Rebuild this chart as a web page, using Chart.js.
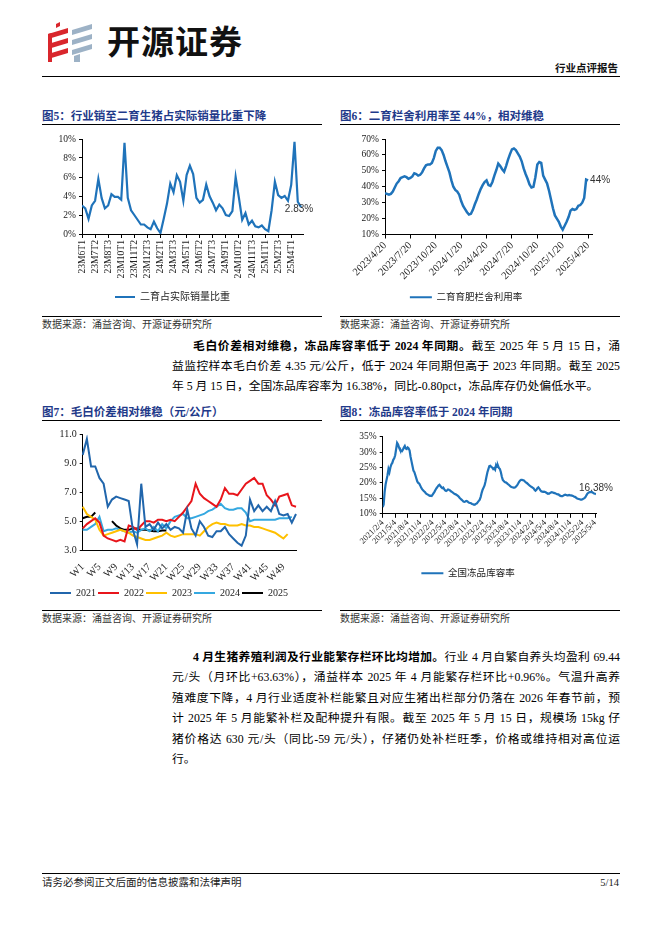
<!DOCTYPE html>
<html><head><meta charset="utf-8">
<script src="https://cdn.jsdelivr.net/npm/chart.js@4.4.1/dist/chart.umd.min.js"></script>
<style>
body{margin:0;width:662px;height:936px;background:#fff;position:relative;overflow:hidden;font-family:"Liberation Serif","Noto Sans CJK SC",serif;color:#000}
.abs{position:absolute}
.title{position:absolute;font-family:"Liberation Serif","Noto Sans CJK SC",serif;font-weight:bold;font-size:11.5px;line-height:14px;color:#1F3A8A;white-space:nowrap}
.rule{position:absolute;height:0;border-top:1px solid #000}
.src{position:absolute;font-size:10px;line-height:12px;color:#333;white-space:nowrap}
.ln{position:absolute;font-size:11.8px;line-height:20px;text-align:justify;text-align-last:justify;white-space:nowrap;overflow:visible}
.ln.last{text-align-last:left}
.ln b{font-weight:bold}
.box{position:absolute}
</style></head>
<body>
<!-- header -->
<svg class="abs" style="left:46px;top:20px" width="52" height="44" viewBox="0 0 52 44">
  <polygon points="10,4 14,2 14,6 10,8" fill="#D9262C"/>
  <polygon points="2,14 22,8 22,13 2,19" fill="#D9262C"/>
  <polygon points="2,24 22,18 22,23 2,29" fill="#D9262C"/>
  <polygon points="2,34 22,28 22,33 2,39" fill="#D9262C"/>
  <polygon points="2,14 6,13 6,42 2,42" fill="#D9262C"/>
  <polygon points="26,10 46,4 46,9 26,15" fill="#9DB2C6"/>
  <polygon points="26,20 46,14 46,19 26,25" fill="#9DB2C6"/>
  <polygon points="26,30 46,24 46,29 26,35" fill="#9DB2C6"/>
  <polygon points="28,36 34,34 34,42 28,42" fill="#9DB2C6"/>
</svg>
<div class="abs" style="left:107px;top:19px;font-family:'Noto Sans CJK SC';font-weight:bold;font-size:33px;line-height:42px;letter-spacing:1px;color:#111">开源证券</div>
<div class="abs" style="right:44px;top:61px;font-family:'Noto Sans CJK SC';font-weight:bold;font-size:10.5px;line-height:13px;color:#111">行业点评报告</div>
<div class="rule" style="left:42px;top:76px;width:578px"></div>

<!-- titles row 1 -->
<div class="title" style="left:42px;top:109px">图5：行业销至二育生猪占实际销量比重下降</div>
<div class="rule" style="left:42px;top:124px;width:280px"></div>
<div class="title" style="left:340px;top:109px">图6：二育栏舍利用率至 44%，相对维稳</div>
<div class="rule" style="left:340px;top:124px;width:280px"></div>

<div class="box" style="left:42px;top:128px;width:285px;height:188px"><canvas id="c5"></canvas></div>
<div class="box" style="left:340px;top:128px;width:282px;height:188px"><canvas id="c6"></canvas></div>

<div class="rule" style="left:42px;top:316px;width:280px"></div>
<div class="src" style="left:42px;top:319px">数据来源：涌益咨询、开源证券研究所</div>
<div class="rule" style="left:340px;top:316px;width:280px"></div>
<div class="src" style="left:340px;top:319px">数据来源：涌益咨询、开源证券研究所</div>

<!-- paragraph 1 -->
<div class="ln" style="left:193px;top:336px;width:427px"><b>毛白价差相对维稳，冻品库容率低于 2024 年同期。</b>截至 2025 年 5 月 15 日，涌</div>
<div class="ln" style="left:172px;top:356px;width:448px">益监控样本毛白价差 4.35 元/公斤，低于 2024 年同期但高于 2023 年同期。截至 2025</div>
<div class="ln last" style="left:172px;top:376px;width:448px">年 5 月 15 日，全国冻品库容率为 16.38%，同比-0.80pct，冻品库存仍处偏低水平。</div>

<!-- titles row 2 -->
<div class="title" style="left:42px;top:405px">图7：毛白价差相对维稳（元/公斤）</div>
<div class="rule" style="left:42px;top:420px;width:280px"></div>
<div class="title" style="left:340px;top:405px">图8：冻品库容率低于 2024 年同期</div>
<div class="rule" style="left:340px;top:420px;width:280px"></div>

<div class="box" style="left:42px;top:424px;width:282px;height:184px"><canvas id="c7"></canvas></div>
<div class="box" style="left:340px;top:424px;width:282px;height:170px"><canvas id="c8"></canvas></div>

<div class="rule" style="left:42px;top:610px;width:280px"></div>
<div class="src" style="left:42px;top:613px">数据来源：涌益咨询、开源证券研究所</div>
<div class="rule" style="left:340px;top:610px;width:280px"></div>
<div class="src" style="left:340px;top:613px">数据来源：涌益咨询、开源证券研究所</div>

<!-- paragraph 2 -->
<div class="ln" style="left:193px;top:647px;width:427px"><b>4 月生猪养殖利润及行业能繁存栏环比均增加。</b>行业 4 月自繁自养头均盈利 69.44</div>
<div class="ln" style="left:172px;top:667.4px;width:448px">元/头（月环比+63.63%），涌益样本 2025 年 4 月能繁存栏环比+0.96%。气温升高养</div>
<div class="ln" style="left:172px;top:687.8px;width:448px">殖难度下降，4 月行业适度补栏能繁且对应生猪出栏部分仍落在 2026 年春节前，预</div>
<div class="ln" style="left:172px;top:708.2px;width:448px">计 2025 年 5 月能繁补栏及配种提升有限。截至 2025 年 5 月 15 日，规模场 15kg 仔</div>
<div class="ln" style="left:172px;top:728.6px;width:448px">猪价格达 630 元/头（同比-59 元/头），仔猪仍处补栏旺季，价格或维持相对高位运</div>
<div class="ln last" style="left:172px;top:749px;width:448px">行。</div>

<!-- footer -->
<div class="rule" style="left:42px;top:873px;width:578px"></div>
<div class="src" style="left:42px;top:877px;font-size:10.5px;color:#222">请务必参阅正文后面的信息披露和法律声明</div>
<div class="src" style="right:43px;top:877px;font-size:10.5px;color:#222">5/14</div>

<script>
// ---------- DATA ----------
const c5Ticks = ['23M6T1','23M7T2','23M8T3','23M10T1','23M11T2','23M12T3','24M2T1','24M3T3','24M5T1','24M6T2','24M7T3','24M9T1','24M10T2','24M11T3','25M1T1','25M2T3','25M4T1'];
const c5Share = [3.0,2.7,1.6,3.0,3.5,5.8,3.8,2.7,3.0,4.2,3.9,3.9,3.6,9.6,3.8,2.5,2.0,1.5,1.0,1.0,0.7,0.5,1.3,0.6,0.1,1.6,3.2,5.3,4.4,6.2,5.5,3.5,6.2,7.2,6.3,3.8,3.3,3.6,5.2,4.0,3.3,2.5,3.1,2.7,2.0,1.9,2.4,6.0,3.8,1.5,2.2,1.0,1.4,0.8,0.7,0.9,0.5,0.3,2.5,5.5,4.1,3.8,4.0,3.5,5.2,9.7,3.4,2.83];

const c6Ticks = ['2023/4/20','2023/7/20','2023/10/20','2024/1/20','2024/4/20','2024/7/20','2024/10/20','2025/1/20','2025/4/20'];
const c6Util = [36,35.5,35,35.5,37,39.5,42,43.5,45.5,46,46.5,46,45,45.5,46.5,48.5,48,47,47.5,49,51.5,53.5,54,54,55,58,62.5,64.5,64.5,63,60,56,52.5,49,44,40,38,37,35,31,28,26,24,22.5,23,25.5,29,32,35.5,38.5,41,43,44,41,40.5,43,47,50.5,54.5,53,51,49.5,53,57,60.5,63.5,64,63,61,59,56,51.5,48,45,41.5,39.5,40,46,54,55.5,55,47,44.5,42,37.5,32,26.5,22,20,18,15,13,15.5,18,21,25,26,25.5,26,28,28.5,30,33,44.5,44];

const c7Years = ['2021','2022','2023','2024','2025'];
const c7_2021 = [9.6,10.7,8.8,8.8,8.0,7.6,6.0,6.5,6.7,6.6,6.5,6.4,4.4,3.4,7.6,4.6,4.8,4.4,4.9,4.5,4.8,4.4,4.6,4.5,4.2,5.8,4.5,4.0,5.0,4.6,4.0,3.9,4.3,4.3,4.6,4.1,3.8,3.5,3.3,4.0,6.5,5.7,6.1,5.7,6.0,5.7,6.4,5.5,5.4,5.5,4.9,5.5];
const c7_2022 = [4.5,4.8,5.0,5.2,4.9,4.0,3.8,3.7,3.6,3.7,3.6,4.7,4.6,4.4,4.7,5.0,5.0,4.9,5.1,5.1,5.0,5.1,5.0,5.3,5.6,6.0,6.4,7.6,6.9,6.6,6.4,6.2,6.0,6.5,7.3,6.9,6.9,6.8,7.2,7.6,7.8,8.0,7.6,7.6,6.8,6.5,6.1,6.7,6.8,6.9,6.1,6.0];
const c7_2023 = [6.0,5.5,5.3,5.1,4.4,4.0,4.1,4.2,4.3,4.4,4.3,4.2,4.0,3.9,3.8,3.7,3.7,3.8,3.9,4.0,4.2,4.0,3.9,4.0,4.1,4.1,4.1,4.1,4.0,4.3,4.6,4.8,4.9,4.8,4.8,4.7,4.7,4.7,4.8,4.7,4.7,4.6,4.6,4.5,4.4,4.3,4.2,4.0,3.8,4.1];
const c7_2024 = [4.4,4.4,4.6,4.8,5.3,4.3,4.4,4.4,4.5,4.4,4.3,4.2,4.3,4.2,4.4,4.5,4.3,4.6,4.3,4.8,4.5,5.0,5.3,5.4,5.5,5.2,5.2,5.3,5.4,5.5,5.7,5.8,6.0,6.2,5.9,5.8,5.8,5.9,5.9,5.6,5.0,5.1,5.1,5.1,5.1,5.1,5.1,5.2,5.2,5.2,5.3];
const c7_2025 = [5.2,5.3,5.3,5.6,null,null,null,5.0,4.7,4.5,4.4,4.4,4.5,4.5,4.4,4.4,4.35,4.3,4.3,4.35,4.35];
const c7Ticks = ['W1','W5','W9','W13','W17','W21','W25','W29','W33','W37','W41','W45','W49'];

const c8Ticks = ['2021/2/4','2021/5/4','2021/8/4','2021/11/4','2022/2/4','2022/5/4','2022/8/4','2022/11/4','2023/2/4','2023/5/4','2023/8/4','2023/11/4','2024/2/4','2024/5/4','2024/8/4','2024/11/4','2025/2/4','2025/5/4'];
const c8Rate = [12.2,13,17,19.5,21,22.5,24.5,23.5,25,26,
26.5,27.5,28,29,31,33,32.5,31.5,30.8,30.5,
30.3,30.8,31.5,32,31.2,31,31.5,31.2,30.5,28.5,
27,25.5,24,23.5,22.5,21.5,20.5,20,19.8,19.2,
18.5,18,17.6,17.3,17,16.6,16.4,16.2,16,15.8,
15.9,15.8,16.2,16.7,17.2,17.8,18.3,18.7,19.2,19.4,
19,18.6,18.3,18.5,18,17.6,17.4,17.6,17.9,17.8,
17.6,17.3,17.1,16.9,16.6,16.4,16.3,16.1,15.9,15.6,
15.2,14.9,14.6,14.3,14.0,13.9,14.0,14.2,14.1,13.8,
13.6,13.5,13.4,13.2,13.1,13.0,13.0,13.2,13.4,13.8,
14.2,14.6,15.5,16.8,17.8,18.5,19.2,20.5,22,23.5,
24.5,25.5,25.6,25.2,25,24.5,24.8,24.3,25.8,25.2,
25.6,24.8,24.5,23.5,22,21,20.6,20.3,20.2,20,
19.7,19.5,19.2,18.9,18.7,18.6,18.5,18.5,18.6,18.9,
19.3,19.8,20.4,20.8,21.0,21.0,21.0,20.8,20.5,20.2,
20.0,19.7,19.4,19.1,18.9,18.7,18.5,18.3,17.8,17.5,
17.8,18.3,18.6,18.2,17.7,17.3,17.2,17.1,17.2,17.1,
16.9,16.7,16.6,16.5,16.7,16.9,17.0,16.9,16.8,16.7,
16.6,16.4,16.3,16.3,16.0,15.8,15.7,15.7,15.9,16.1,
16.2,16.1,16.0,16.0,16.1,16.0,16.0,15.9,15.8,15.6,
15.5,15.3,15.0,14.9,14.8,14.7,14.6,14.6,14.7,14.9,
15.1,15.4,16.0,16.5,16.8,17.0,17.1,17.0,17.0,16.8,
16.6,16.5,16.38];

// ---------- STYLE ----------
const BLUE = '#1F73BA';
const C7COLORS = ['#2166AC','#E8151B','#FFC000','#35A8E0','#000000'];
Chart.defaults.font.family = '"Liberation Serif","Noto Sans CJK SC",serif';
Chart.defaults.color = '#222';
Chart.defaults.animation = false;

const endLabel = {
  id:'endLabel',
  afterDatasetsDraw(chart, args, opts){
    if(!opts || !opts.text) return;
    const meta = chart.getDatasetMeta(0);
    const pt = meta.data[meta.data.length-1];
    const ctx = chart.ctx;
    ctx.save();
    ctx.font = (opts.size||10)+'px "Liberation Sans"';
    ctx.fillStyle = '#333';
    ctx.textAlign = opts.align||'left';
    ctx.textBaseline = 'middle';
    ctx.fillText(opts.text, pt.x+(opts.dx||0), pt.y+(opts.dy||0));
    ctx.restore();
  }
};
function legendOpts(size, pad, bw){
  return {position:'bottom', labels:{boxWidth:bw, boxHeight:2, padding:pad, color:'#222', font:{size:size},
    generateLabels(chart){ return Chart.defaults.plugins.legend.labels.generateLabels(chart).map(l=>Object.assign(l,{lineWidth:0})); }}};
}
function yAxis(min,max,step,w,fmt,size){
  return {min:min,max:max,afterFit(s){s.width=w;},border:{color:'#000'},
    grid:{drawOnChartArea:false,tickLength:3,color:'#000'},
    ticks:{stepSize:step,padding:3,font:{size:size||9.5},callback:fmt}};
}
const pts = arr => arr.map((v,i)=>({x:i,y:v}));

// ---------- Chart 5 ----------
new Chart(document.getElementById('c5'),{
  type:'line',
  data:{datasets:[{label:'二育占实际销量比重',data:pts(c5Share),borderColor:BLUE,backgroundColor:BLUE,borderWidth:2.2,pointRadius:0,tension:0}]},
  options:{responsive:true,maintainAspectRatio:false,
    layout:{padding:{left:0,right:24,top:11,bottom:4}},
    scales:{
      x:{type:'linear',min:0,max:67.6,afterFit(s){s.height=52;},border:{color:'#000'},
        grid:{drawOnChartArea:false,tickLength:4,color:'#000'},
        ticks:{stepSize:4,includeBounds:false,autoSkip:false,minRotation:90,maxRotation:90,padding:2,font:{size:9.6},callback:v=>c5Ticks[Math.round(v/4)]}},
      y:yAxis(0,10,2,40,v=>v+'%')
    },
    plugins:{legend:legendOpts(10,6,20),tooltip:{enabled:false},
      endLabel:{text:c5Share[c5Share.length-1].toFixed(2)+'%',align:'center',dx:-2,dy:2,size:10}}
  },
  plugins:[endLabel]
});

// ---------- Chart 6 ----------
new Chart(document.getElementById('c6'),{
  type:'line',
  data:{datasets:[{label:'二育育肥栏舍利用率',data:pts(c6Util),borderColor:BLUE,backgroundColor:BLUE,borderWidth:2.5,pointRadius:0,tension:0}]},
  options:{responsive:true,maintainAspectRatio:false,
    layout:{padding:{left:0,right:30,top:11,bottom:4}},
    scales:{
      x:{type:'linear',min:0,max:106,afterFit(s){s.height=52;},border:{color:'#000'},
        grid:{drawOnChartArea:false,tickLength:4,color:'#000'},
        ticks:{stepSize:13,includeBounds:false,autoSkip:false,minRotation:45,maxRotation:45,padding:1,font:{size:10.5},callback:v=>c6Ticks[Math.round(v/13)]}},
      y:yAxis(10,70,10,45,v=>v+'%')
    },
    plugins:{legend:legendOpts(9.5,6,22),tooltip:{enabled:false},
      endLabel:{text:Math.round(c6Util[c6Util.length-1])+'%',align:'left',dx:2,dy:0,size:10}}
  },
  plugins:[endLabel]
});

// ---------- Chart 7 ----------
const weeks = Array.from({length:52},(_,i)=>'W'+(i+1));
const c7Series = [c7_2021,c7_2022,c7_2023,c7_2024,c7_2025];
new Chart(document.getElementById('c7'),{
  type:'line',
  data:{labels:weeks,datasets:c7Series.map((d,k)=>({label:c7Years[k],data:d,borderColor:C7COLORS[k],backgroundColor:C7COLORS[k],borderWidth:2,pointRadius:0,tension:0,spanGaps:false}))},
  options:{responsive:true,maintainAspectRatio:false,
    layout:{padding:{left:0,right:28,top:10.7,bottom:0}},
    scales:{
      x:{type:'category',offset:false,afterFit(s){s.height=36;},border:{color:'#000'},
        grid:{display:false},
        ticks:{autoSkip:false,minRotation:45,maxRotation:45,padding:3,font:{size:10.5},
          callback:function(v,i){return i%4===0 ? c7Ticks[i/4] : null;}}},
      y:yAxis(3,11,2,40.7,v=>v.toFixed(1),10)
    },
    plugins:{legend:legendOpts(10,2,21),tooltip:{enabled:false}}
  }
});

// ---------- Chart 8 ----------
new Chart(document.getElementById('c8'),{
  type:'line',
  data:{datasets:[{label:'全国冻品库容率',data:pts(c8Rate),borderColor:BLUE,backgroundColor:BLUE,borderWidth:2.2,pointRadius:0,tension:0}]},
  options:{responsive:true,maintainAspectRatio:false,
    layout:{padding:{left:0,right:26,top:12.7,bottom:6}},
    scales:{
      x:{type:'linear',min:0,max:222,afterFit(s){s.height=48.7;},border:{color:'#000'},
        grid:{drawOnChartArea:false,tickLength:4,color:'#000'},
        ticks:{stepSize:13,includeBounds:false,autoSkip:false,minRotation:45,maxRotation:45,padding:0,font:{size:8.5},callback:v=>c8Ticks[Math.round(v/13)]}},
      y:yAxis(10,35,5,42.7,v=>v+'%')
    },
    plugins:{legend:legendOpts(9.5,6,22),tooltip:{enabled:false},
      endLabel:{text:c8Rate[c8Rate.length-1].toFixed(2)+'%',align:'center',dx:0,dy:-6,size:10}}
  },
  plugins:[endLabel]
});
</script>
</body></html>
